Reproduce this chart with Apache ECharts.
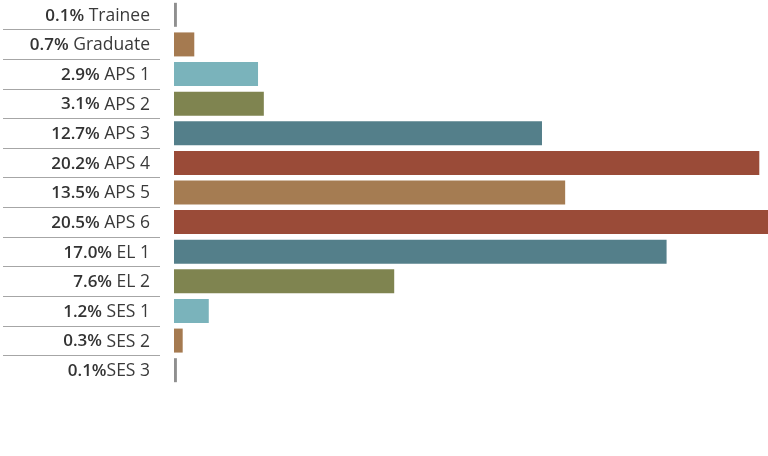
<!DOCTYPE html>
<html>
<head>
<meta charset="utf-8">
<script src="https://cdn.jsdelivr.net/npm/echarts@6/dist/echarts.min.js"></script>
<style>
	html, body { margin: 0; padding: 0; background: #fff; }
	#chart-container { width: 768px; height: 456px; }
</style>
</head>
<body>
<div id="chart-container"></div>
<script>

var levels = ["Trainee", "Graduate", "APS 1", "APS 2", "APS 3", "APS 4", "APS 5", "APS 6", "EL 1", "EL 2", "SES 1", "SES 2", "SES 3"];
var shares = [0.1, 0.7, 2.9, 3.1, 12.7, 20.2, 13.5, 20.5, 17.0, 7.6, 1.2, 0.3, 0.1];
var barColors = ["#8f8f8f", "#a57a50", "#7ab3bb", "#7f8450", "#547f8a", "#9a4b38", "#a57c52",
	"#9a4b38", "#547f8a", "#7f8450", "#7ab3bb", "#a57a50", "#8f8f8f"];

window.onload = function() {
	drawChart();
};

function drawChart() {

	var myChart = echarts.init(document.getElementById('chart-container'));

	var barData = [];
	for (var i = 0; i < shares.length; i++) {
		barData.push({ value: shares[i], itemStyle: { color: barColors[i] } });
	}

	var option = {
		animation: false,
		textStyle: { fontFamily: "Open Sans" },
		grid: [
			{ left: 174, right: 0, top: 0, bottom: 71 },
			{ left: 3, width: 157, top: 0, bottom: 71 }
		],
		xAxis: [
			{ type: "value", gridIndex: 0, min: 0, max: 20.5, show: false },
			{ type: "value", gridIndex: 1, min: 0, max: 1, show: false }
		],
		yAxis: [
			{
				type: "category",
				gridIndex: 0,
				inverse: true,
				data: levels,
				axisLine: { show: false },
				axisTick: { show: false },
				splitLine: { show: false },
				axisLabel: {
					margin: 24,
					formatter: function(value, idx) {
						// SES 3 has no space in the original
						var sep = value == "SES 3" ? "" : " ";
						return "{b|" + shares[idx].toFixed(1) + "%}{n|" + sep + value + "}";
					},
					rich: {
						b: { fontFamily: "Open Sans", fontWeight: 600, fontSize: 17, color: "#333", padding: [2, 0, 0, 0] },
						n: { fontFamily: "Open Sans", fontSize: 17.5, color: "#3a3a3a", padding: [2, 0, 0, 0] }
					}
				}
			},
			{
				type: "category",
				gridIndex: 1,
				inverse: true,
				data: levels,
				axisLine: { show: false },
				axisTick: { show: false },
				axisLabel: { show: false },
				splitLine: {
					show: true,
					showMinLine: false,
					showMaxLine: false,
					lineStyle: { color: "#a6a6a6", width: 1 }
				}
			}
		],
		series: [
			{
				type: "bar",
				xAxisIndex: 0,
				yAxisIndex: 0,
				barWidth: 24,
				data: barData
			}
		]
	};

	myChart.setOption(option);
}

</script>
</body>
</html>
